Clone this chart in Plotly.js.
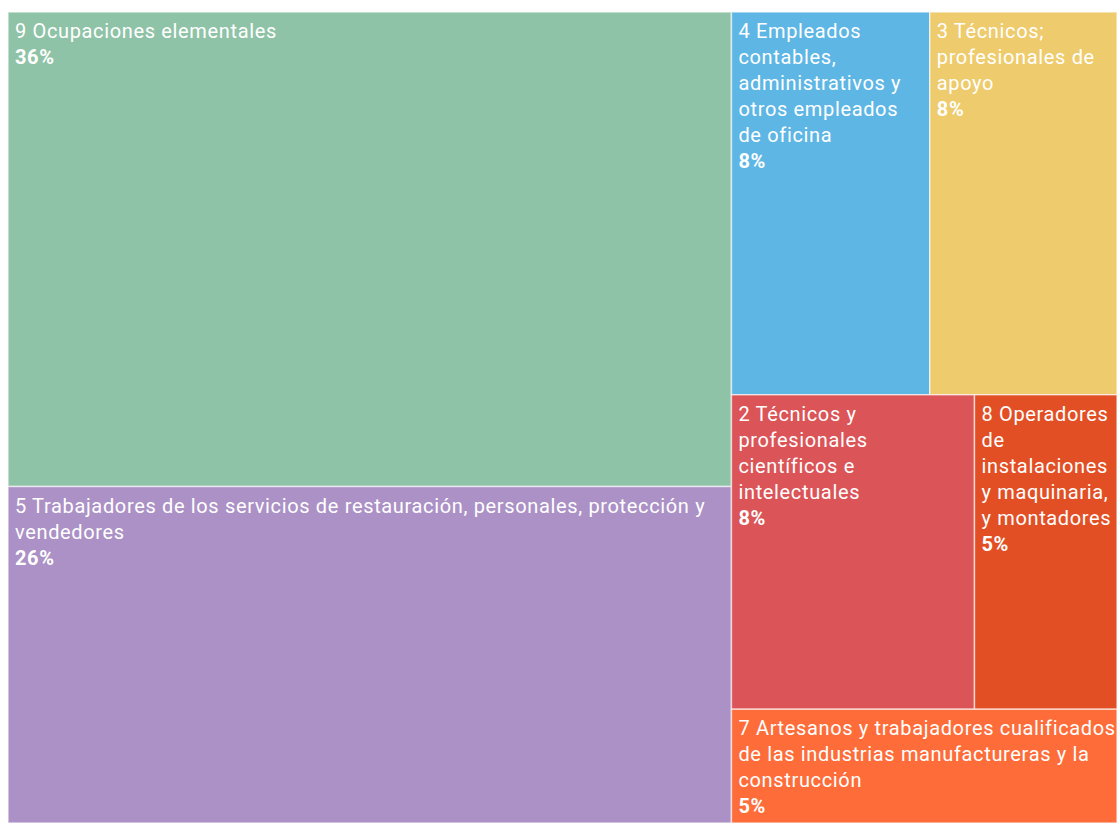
<!DOCTYPE html>
<html>
<head>
<meta charset="utf-8">
<script src="https://cdn.plot.ly/plotly-3.0.1.min.js"></script>
<style>
html,body{margin:0;padding:0;background:#fff;}
#chart{width:1117px;height:823px;}
#chart g.slicetext{transform:translate(4px,4px);}
#chart g.slicetext text{letter-spacing:0.65px;}
</style>
</head>
<body>
<div id="chart"></div>
<script>
// Categories (occupation groups), in display order
var categories = [
  "9 Ocupaciones elementales",
  "5 Trabajadores de los servicios de restauración, personales, protección y vendedores",
  "4 Empleados contables, administrativos y otros empleados de oficina",
  "3 Técnicos; profesionales de apoyo",
  "2 Técnicos y profesionales científicos e intelectuales",
  "8 Operadores de instalaciones y maquinaria, y montadores",
  "7 Artesanos y trabajadores cualificados de las industrias manufactureras y la construcción"
];
// Wrapped versions of the labels, as they appear in the tiles
var displayLabels = [
  "9 Ocupaciones elementales",
  "5 Trabajadores de los servicios de restauración, personales, protección y<br>vendedores",
  "4 Empleados<br>contables,<br>administrativos y<br>otros empleados<br>de oficina",
  "3 Técnicos;<br>profesionales de<br>apoyo",
  "2 Técnicos y<br>profesionales<br>científicos e<br>intelectuales",
  "8 Operadores<br>de<br>instalaciones<br>y maquinaria,<br>y montadores",
  "7 Artesanos y trabajadores cualificados<br>de las industrias manufactureras y la<br>construcción"
];
// Share of workers (%)
var shares = [36.4, 25.8, 8.05, 7.6, 8.1, 4.75, 4.65];
var colors = ["#8FC3A7", "#AB91C5", "#5EB6E4", "#EECB6C", "#DB5457", "#E34F25", "#FE6C39"];

var parents = categories.map(function(){ return ""; });

var trace = {
  type: "treemap",
  labels: categories,
  parents: parents,
  values: shares,
  text: displayLabels,
  texttemplate: "%{text}<br><b>%{value:.0f}%</b>",
  textposition: "top left",
  textfont: {family: "Roboto, sans-serif", size: 20, color: "#ffffff"},
  sort: false,
  tiling: {packing: "squarify", squarifyratio: 1.618034, pad: 0},
  marker: {colors: colors, pad: {t: 0, l: 0, r: 0, b: 0}, line: {width: 1.5, color: "rgba(255,255,255,0.6)"}},
  pathbar: {visible: false},
  hoverinfo: "none"
};

var layout = {
  width: 1117,
  height: 823,
  margin: {l: 8, r: 0, t: 12, b: 0},
  paper_bgcolor: "#ffffff",
  uniformtext: {mode: "show", minsize: 20},
  showlegend: false
};

Plotly.newPlot("chart", [trace], layout, {displayModeBar: false, staticPlot: true});
</script>
</body>
</html>
